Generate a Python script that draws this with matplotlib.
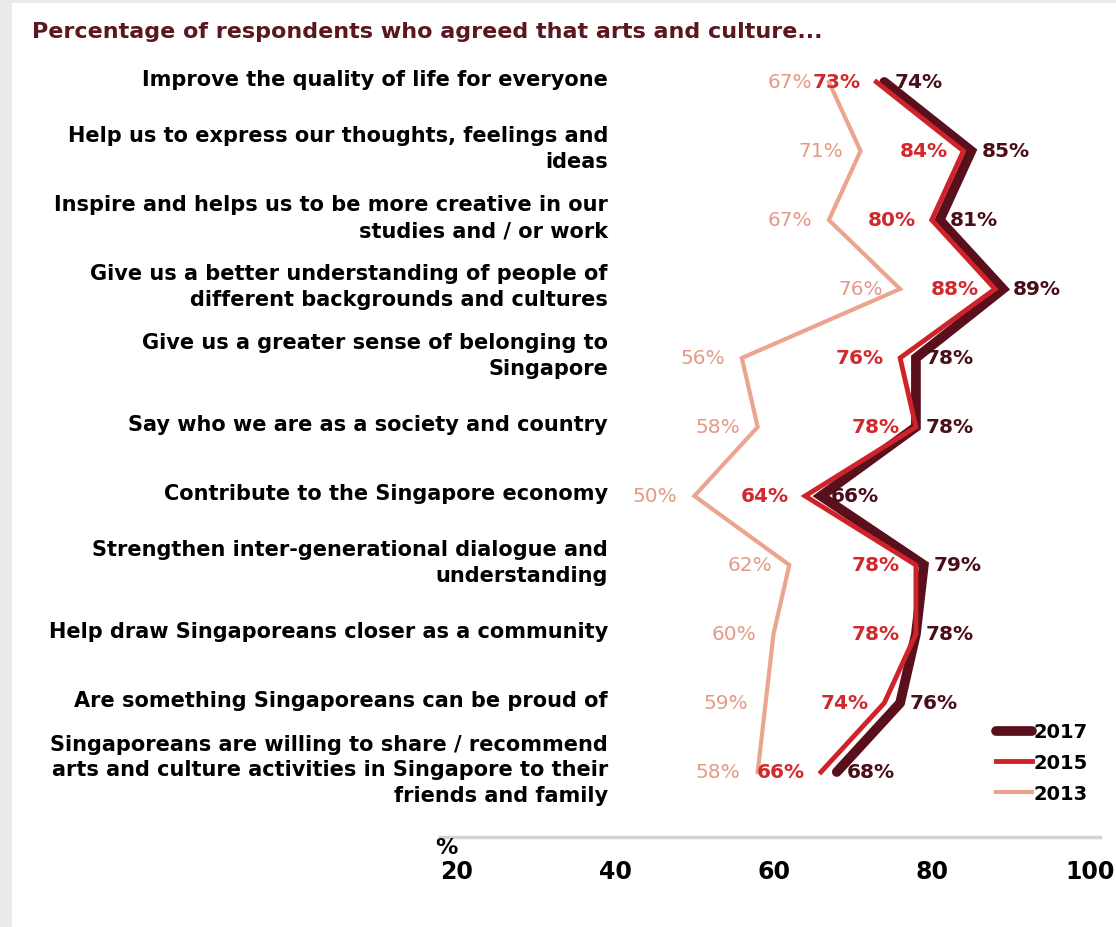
import numpy as np
import matplotlib.pyplot as plt
import matplotlib.transforms as mtransforms
from matplotlib.patches import Rectangle

plt.rcParams['font.family'] = ['DejaVu Sans']

categories = [
    "Improve the quality of life for everyone",
    "Help us to express our thoughts, feelings and\nideas",
    "Inspire and helps us to be more creative in our\nstudies and / or work",
    "Give us a better understanding of people of\ndifferent backgrounds and cultures",
    "Give us a greater sense of belonging to\nSingapore",
    "Say who we are as a society and country",
    "Contribute to the Singapore economy",
    "Strengthen inter-generational dialogue and\nunderstanding",
    "Help draw Singaporeans closer as a community",
    "Are something Singaporeans can be proud of",
    "Singaporeans are willing to share / recommend\narts and culture activities in Singapore to their\nfriends and family",
]
y2017 = [74, 85, 81, 89, 78, 78, 66, 79, 78, 76, 68]
y2015 = [73, 84, 80, 88, 76, 78, 64, 78, 78, 74, 66]
y2013 = [67, 71, 67, 76, 56, 58, 50, 62, 60, 59, 58]
xticks = [20, 40, 60, 80, 100]

c17 = '#5a0f1c'
c15 = '#cf2229'
c13 = '#eba58f'
t13 = '#e49a86'
title_c = '#5b1620'

W, H = 1116, 928
fig = plt.figure(figsize=(W / 100, H / 100), dpi=100)
fig.patch.set_facecolor('#ebebeb')
fig.patches.append(Rectangle((12 / W, 0), 1, 1 - 4 / H, transform=fig.transFigure,
                             facecolor='white', edgecolor='none', zorder=-10))

ax = fig.add_axes([440 / W, 1 - 838 / H, 660 / W, 778 / H])
ax.patch.set_visible(False)
rows = np.arange(len(categories))

ax.plot(y2017, rows, color=c17, lw=7, solid_joinstyle='miter', solid_capstyle='round', label='2017', zorder=2)
ax.plot(y2015, rows, color=c15, lw=3.5, solid_joinstyle='miter', label='2015', zorder=3)
ax.plot(y2013, rows, color=c13, lw=3, solid_joinstyle='miter', label='2013', zorder=3)

ppu = 7.91  # pixels per percentage point
ax.set_xlim(20 - 17 / ppu, 100 + 10 / ppu)
ax.set_ylim(10.942, -0.333)

px = 0.72  # points per pixel
for i in rows:
    ax.annotate(f"{y2017[i]}%", (y2017[i], i), xytext=(10 * px, 0), textcoords='offset points',
                ha='left', va='center', fontsize=14.5, fontweight='bold', color='#4a0e18', zorder=4)
    ax.annotate(f"{y2015[i]}%", (y2015[i], i), xytext=(-16 * px, 0), textcoords='offset points',
                ha='right', va='center', fontsize=14.5, fontweight='bold', color='#d12a2e', zorder=4)
    ax.annotate(f"{y2013[i]}%", (y2013[i], i), xytext=(-17 * px, 0), textcoords='offset points',
                ha='right', va='center', fontsize=14.5, color=t13, zorder=4)

blend = mtransforms.blended_transform_factory(fig.transFigure, ax.transData)
for i, lab in enumerate(categories):
    ax.annotate(lab, (608 / W, i), xycoords=blend, xytext=(0, 2), textcoords='offset points',
                ha='right', va='center', multialignment='right', fontsize=15,
                fontweight='bold', color='black', linespacing=1.35, annotation_clip=False)

fig.text(32 / W, 1 - 32 / H, "Percentage of respondents who agreed that arts and culture...",
         ha='left', va='center', fontsize=16, fontweight='bold', color=title_c)

for s in ['top', 'right', 'left']:
    ax.spines[s].set_visible(False)
ax.spines['bottom'].set_color('#d3d3d3')
ax.spines['bottom'].set_linewidth(2.5)
ax.set_yticks([])
ax.set_xticks(xticks)
ax.set_xticklabels([str(t) for t in xticks], fontsize=17, fontweight='bold')
ax.tick_params(axis='x', length=0, pad=16)

bx = mtransforms.blended_transform_factory(ax.transData, ax.transAxes)
ax.annotate('%', (20, 0), xycoords=bx, xytext=(-22 * px, -10 * px), textcoords='offset points',
            ha='left', va='center', fontsize=16, fontweight='bold', annotation_clip=False)

h, l = ax.get_legend_handles_labels()
leg = ax.legend(h, l, loc='upper left', bbox_to_anchor=(978 / W, 1 - 706 / H),
                bbox_transform=fig.transFigure, frameon=False, handlelength=1.9,
                handletextpad=0.05, labelspacing=0.6, prop={'weight': 'bold', 'size': 14})

fig.savefig('out.png', dpi=100)
